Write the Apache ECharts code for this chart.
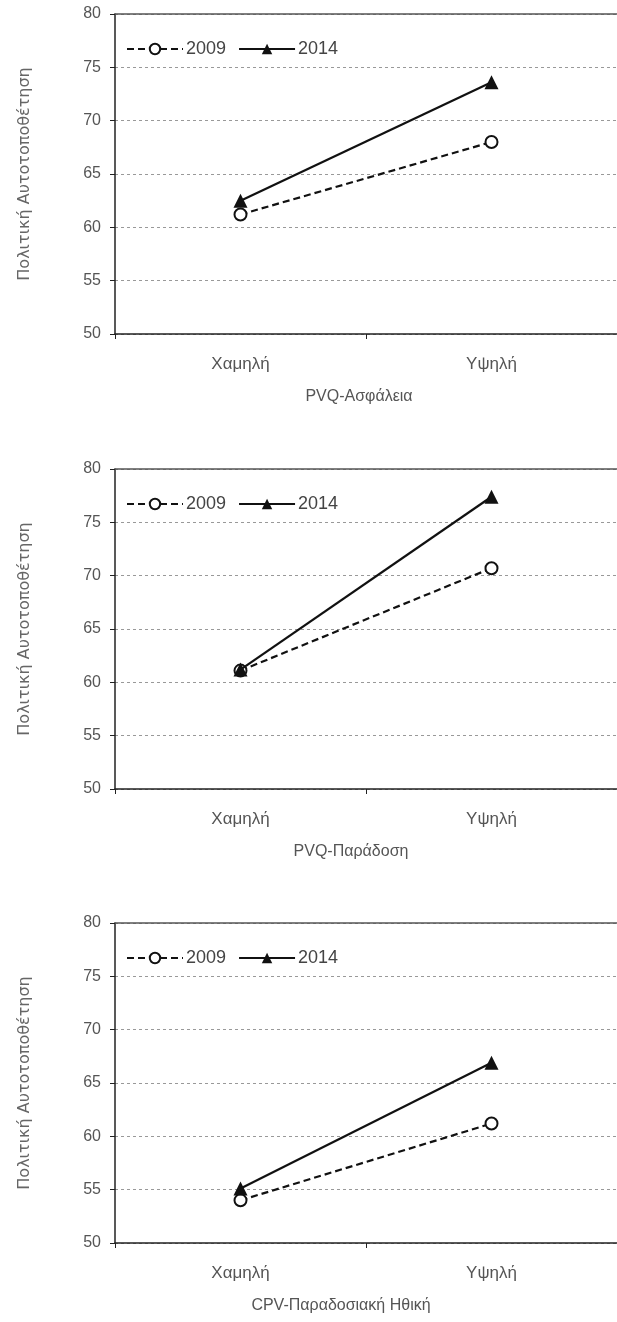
<!DOCTYPE html>
<html>
<head>
<meta charset="utf-8">
<script src="https://cdn.jsdelivr.net/npm/echarts@6/dist/echarts.min.js"></script>
<style>
html,body{margin:0;padding:0;background:#fff;}
#c{width:617px;height:1322px;}
</style>
</head>
<body>
<div id="c"></div>
<script>
// ---- data ----
const categories = ['Χαμηλή', 'Υψηλή'];
const seriesNames = ['2009', '2014'];
const panelTitles = ['PVQ-Ασφάλεια', 'PVQ-Παράδοση', 'CPV-Παραδοσιακή Ηθική'];
const yAxisTitle = 'Πολιτική Αυτοτοποθέτηση';
const security2009 = [61.2, 68.0];
const security2014 = [62.5, 73.6];
const tradition2009 = [61.1, 70.7];
const tradition2014 = [61.2, 77.4];
const morality2009 = [54.0, 61.2];
const morality2014 = [55.1, 66.9];
const yMin = 50, yMax = 80, yStep = 5;

const panels = [
  [security2009, security2014],
  [tradition2009, tradition2014],
  [morality2009, morality2014]
];

// ---- layout ----
const gridTops = [14, 469, 923];
const gridH = 320;
const titleShift = [14, 30, 50];
const font = 'Liberation Sans, Arial, sans-serif';

const grids = [], xAxes = [], yAxes = [], series = [], legends = [];
panels.forEach((p, i) => {
  grids.push({
    left: 115, width: 510, top: gridTops[i], height: gridH, show: false
  });
  xAxes.push({
    type: 'category', gridIndex: i, data: categories, boundaryGap: true, position: 'bottom',
    axisLine: {lineStyle: {color: '#222', width: 1.5}},
    axisTick: {show: true, length: 5, lineStyle: {color: '#222'}},
    axisLabel: {color: '#555', fontSize: 17, fontFamily: font, margin: 22},
    name: panelTitles[i], nameLocation: 'middle', nameGap: 55,
    nameTextStyle: {color: '#555', fontSize: 16, fontFamily: font, padding: [0, titleShift[i], 0, 0]},
    splitLine: {show: false}
  });
  // top frame line of the plot area
  xAxes.push({
    type: 'category', gridIndex: i, data: categories, boundaryGap: true, position: 'top',
    axisLine: {lineStyle: {color: '#555', width: 1.5}},
    axisTick: {show: false}, axisLabel: {show: false}, splitLine: {show: false}
  });
  yAxes.push({
    type: 'value', gridIndex: i, min: yMin, max: yMax, interval: yStep,
    axisLine: {show: true, lineStyle: {color: '#222', width: 1.5}},
    axisTick: {show: true, length: 5, lineStyle: {color: '#222'}},
    axisLabel: {color: '#555', fontSize: 16, fontFamily: font, margin: 14},
    splitLine: {show: true, lineStyle: {color: '#999', type: [3, 3], width: 1}},
    name: yAxisTitle, nameLocation: 'middle', nameGap: 82, nameRotate: 90,
    nameTextStyle: {color: '#666', fontSize: 16, fontFamily: 'DejaVu Sans, sans-serif'}
  });
  series.push({
    name: seriesNames[0], type: 'line', xAxisIndex: 2 * i, yAxisIndex: i, data: p[0],
    symbol: 'circle', symbolSize: 12,
    lineStyle: {color: '#111', width: 2.2, type: [7, 4]},
    itemStyle: {color: '#fff', borderColor: '#111', borderWidth: 2},
    z: 3
  });
  series.push({
    name: seriesNames[1], type: 'line', xAxisIndex: 2 * i, yAxisIndex: i, data: p[1],
    symbol: 'triangle', symbolSize: 14,
    lineStyle: {color: '#111', width: 2.2, type: 'solid'},
    itemStyle: {color: '#111'},
    z: 4
  });
  legends.push({
    data: seriesNames, left: 121, top: gridTops[i] + 21, orient: 'horizontal',
    itemWidth: 56, itemHeight: 13, itemGap: 12, selectedMode: false,
    textStyle: {color: '#444', fontSize: 18, fontFamily: font, padding: [0, 0, 0, -2]}
  });
});

const chart = echarts.init(document.getElementById('c'), null, {renderer: 'canvas'});
chart.setOption({
  animation: false,
  backgroundColor: '#fff',
  grid: grids, xAxis: xAxes, yAxis: yAxes, series: series, legend: legends
});
</script>
</body>
</html>
